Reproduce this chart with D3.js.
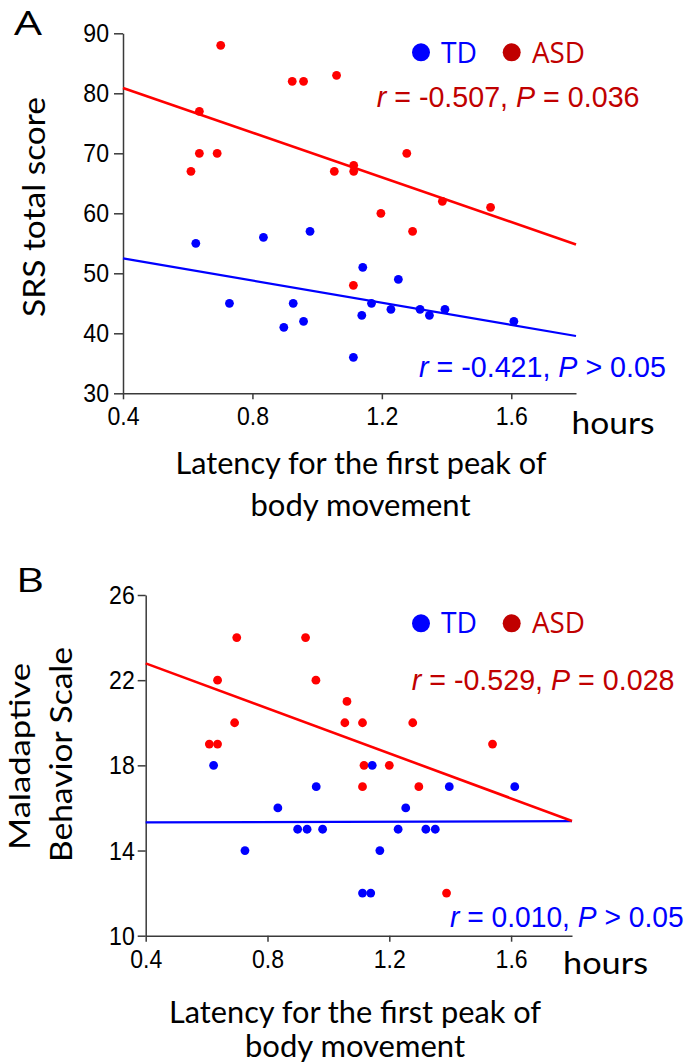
<!DOCTYPE html>
<html>
<head>
<meta charset="utf-8">
<script src="https://cdn.jsdelivr.net/npm/d3@7"></script>
<style>
  html, body { margin: 0; padding: 0; background: #fff; }
  svg { display: block; }
</style>
</head>
<body>
<svg id="chart" width="685" height="1064"></svg>
<script>
// ---------- DATA ----------
const xTicks = [0.4, 0.8, 1.2, 1.6];
const yTicksA = [30, 40, 50, 60, 70, 80, 90];
const yTicksB = [10, 14, 18, 22, 26];

// Panel A: SRS total score
const asdA_x = [0.702, 0.636, 0.636, 0.691, 0.610, 0.923, 0.958, 1.060, 1.053, 1.113, 1.113, 1.277, 1.197, 1.387, 1.536, 1.295, 1.112];
const asdA_y = [88, 77, 70, 70, 67, 82, 82, 83, 67, 68, 67, 70, 60, 62, 61, 57, 48];
const tdA_x  = [0.625, 0.834, 0.978, 0.729, 0.926, 0.897, 0.958, 1.112, 1.141, 1.138, 1.251, 1.168, 1.228, 1.318, 1.347, 1.395, 1.608];
const tdA_y  = [55, 56, 57, 45, 45, 41, 42, 36, 51, 43, 49, 45, 44, 44, 43, 44, 42];
const fitA_x   = [0.4, 1.8];
const fitAsdA  = [80.9, 54.8];
const fitTdA   = [52.5, 39.55];

// Panel B: Maladaptive Behavior Scale
const asdB_x = [0.699, 0.925, 0.636, 0.959, 1.061, 0.692, 1.054, 0.609, 0.636, 1.112, 1.277, 1.539, 1.117, 1.200, 1.112, 1.297, 1.388];
const asdB_y = [24, 24, 22, 22, 21, 20, 20, 19, 19, 20, 20, 19, 18, 18, 17, 17, 12];
const tdB_x  = [0.623, 0.834, 0.960, 0.726, 0.899, 0.930, 0.981, 1.112, 1.139, 1.254, 1.229, 1.320, 1.351, 1.169, 1.397, 1.612, 1.144];
const tdB_y  = [18, 16, 17, 14, 15, 15, 15, 12, 12, 16, 15, 15, 15, 14, 17, 17, 18];
const fitB_x  = [0.4, 1.8];
const fitAsdB = [22.79, 15.39];
const fitTdB  = [15.32, 15.38];

const statsA = [
  {group: "ASD", r: "-0.507", op: "=", p: "0.036"},
  {group: "TD",  r: "-0.421", op: ">", p: "0.05"}
];
const statsB = [
  {group: "ASD", r: "-0.529", op: "=", p: "0.028"},
  {group: "TD",  r: "0.010",  op: ">", p: "0.05"}
];
const legendLabels = ["TD", "ASD"];

// ---------- STYLE ----------
const RED = "#ff0000", BLUE = "#0000ff", DARKRED = "#c00000";
const AXIS = "#3a3a3a";
const LABEL_FONT = "Lato, 'Open Sans', sans-serif";
const TICK_FONT = "'Liberation Sans', Arial, sans-serif";
const LEG_FONT = "'Open Sans', 'Noto Sans', sans-serif";

const svg = d3.select("#chart");
svg.append("rect").attr("width", 685).attr("height", 1064).attr("fill", "#fff");

function drawPanel(cfg) {
  const g = svg.append("g");
  const x = d3.scaleLinear().domain([0.4, 1.8]).range(cfg.xRange);
  const y = d3.scaleLinear().domain(cfg.yDomain).range(cfg.yRange);

  // axes
  const xa = g.append("g").attr("transform", `translate(0,${cfg.yRange[0]})`)
    .call(d3.axisBottom(x).tickValues(xTicks).tickFormat(d3.format(".1f"))
      .tickSize(6).tickPadding(7).tickSizeOuter(0));
  const ya = g.append("g").attr("transform", `translate(${cfg.xRange[0]},0)`)
    .call(d3.axisLeft(y).tickValues(cfg.yTicks).tickFormat(d3.format("d"))
      .tickSize(cfg.yTickSize).tickPadding(cfg.yTickPad).tickSizeOuter(0));
  [xa, ya].forEach(a => {
    a.select(".domain").attr("stroke", AXIS).attr("stroke-width", 1.5);
    a.selectAll(".tick line").attr("stroke", AXIS).attr("stroke-width", 1.5);
    a.selectAll(".tick text").attr("fill", "#000").attr("font-size", 26.5)
      .attr("font-family", TICK_FONT)
      .each(function () {
        const w = this.getComputedTextLength();
        d3.select(this).attr("textLength", w * 0.87).attr("lengthAdjust", "spacingAndGlyphs");
      });
  });

  // fit lines
  const line = d3.line().x(d => x(d[0])).y(d => y(d[1]));
  g.append("path").datum(cfg.fitX.map((v, i) => [v, cfg.fitTd[i]]))
    .attr("d", line).attr("stroke", BLUE).attr("stroke-width", 2.2).attr("fill", "none");
  g.append("path").datum(cfg.fitX.map((v, i) => [v, cfg.fitAsd[i]]))
    .attr("d", line).attr("stroke", RED).attr("stroke-width", 2.6).attr("fill", "none");

  // points
  g.append("g").selectAll("circle").data(cfg.asdX.map((v, i) => [v, cfg.asdY[i]]))
    .join("circle").attr("cx", d => x(d[0])).attr("cy", d => y(d[1])).attr("r", 4.4).attr("fill", RED);
  g.append("g").selectAll("circle").data(cfg.tdX.map((v, i) => [v, cfg.tdY[i]]))
    .join("circle").attr("cx", d => x(d[0])).attr("cy", d => y(d[1])).attr("r", 4.4).attr("fill", BLUE);

  // panel letter
  g.append("text").attr("x", cfg.letterPos[0]).attr("y", cfg.letterPos[1])
    .attr("font-family", LEG_FONT).attr("font-size", 33).attr("fill", "#000")
    .attr("textLength", 28).attr("lengthAdjust", "spacingAndGlyphs").text(cfg.letter);

  // y label (rotated)
  cfg.yLabel.forEach(l => {
    g.append("text").attr("transform", `translate(${l.x},${l.cy}) rotate(-90)`)
      .attr("text-anchor", "middle").attr("font-family", LABEL_FONT).attr("font-size", l.fs)
      .attr("fill", "#000").attr("textLength", l.len).attr("lengthAdjust", "spacingAndGlyphs")
      .text(l.text);
  });

  // hours
  g.append("text").attr("x", cfg.hours[0]).attr("y", cfg.hours[1])
    .attr("font-family", LABEL_FONT).attr("font-size", 31).attr("fill", "#000")
    .attr("textLength", cfg.hours[2]).attr("lengthAdjust", "spacingAndGlyphs").text("hours");

  // x label
  cfg.xLabel.forEach(l => {
    g.append("text").attr("x", l.cx).attr("y", l.y).attr("text-anchor", "middle")
      .attr("font-family", LABEL_FONT).attr("font-size", 30).attr("fill", "#000")
      .attr("textLength", l.len).attr("lengthAdjust", "spacingAndGlyphs").text(l.text);
  });

  // legend
  const leg = cfg.legend;
  [[BLUE, legendLabels[0], leg.dot1, leg.txt1, 36], [DARKRED, legendLabels[1], leg.dot2, leg.txt2, 53]].forEach(([c, t, dx, tx, tl]) => {
    g.append("circle").attr("cx", dx).attr("cy", leg.dotY).attr("r", 9).attr("fill", c);
    g.append("text").attr("x", tx).attr("y", leg.base).attr("font-family", LEG_FONT)
      .attr("font-size", 29).attr("fill", c)
      .attr("textLength", tl).attr("lengthAdjust", "spacingAndGlyphs").text(t);
  });

  // stats (narrowed by a horizontal scale so the tspans keep their own spacing)
  cfg.stats.forEach((s, i) => {
    const pos = cfg.statPos[i];
    const col = s.group === "ASD" ? DARKRED : BLUE;
    const t = g.append("text")
      .attr("transform", `translate(${pos[0]},${pos[1]}) scale(${pos[2]},1)`)
      .attr("font-family", TICK_FONT).attr("font-size", 30).attr("fill", col);
    t.append("tspan").attr("font-style", "italic").text("r");
    t.append("tspan").text(` = ${s.r}, `);
    t.append("tspan").attr("font-style", "italic").text("P");
    t.append("tspan").text(` ${s.op} ${s.p}`);
  });
}

drawPanel({
  xRange: [123, 576], yDomain: [30, 90], yRange: [393.3, 33.3], yTicks: yTicksA,
  yTickSize: 9, yTickPad: 5,
  asdX: asdA_x, asdY: asdA_y, tdX: tdA_x, tdY: tdA_y,
  fitX: fitA_x, fitAsd: fitAsdA, fitTd: fitTdA,
  letter: "A", letterPos: [14, 35],
  yLabel: [{text: "SRS total score", x: 45, cy: 207, len: 220, fs: 31}],
  hours: [571.5, 434, 83],
  xLabel: [{text: "Latency for the first peak of", cx: 361, y: 474, len: 371},
           {text: "body movement", cx: 360.5, y: 516, len: 220}],
  legend: {dot1: 421, dot2: 511.7, dotY: 52.3, txt1: 441, txt2: 532, base: 62.7},
  stats: statsA, statPos: [[376.7, 107.3, 0.955], [419, 376.7, 0.955]]
});

drawPanel({
  xRange: [145.7, 572], yDomain: [10, 26], yRange: [935.7, 595], yTicks: yTicksB,
  yTickSize: 8, yTickPad: 3,
  asdX: asdB_x, asdY: asdB_y, tdX: tdB_x, tdY: tdB_y,
  fitX: fitB_x, fitAsd: fitAsdB, fitTd: fitTdB,
  letter: "B", letterPos: [16, 592],
  yLabel: [{text: "Maladaptive", x: 30, cy: 756.5, len: 187, fs: 29},
           {text: "Behavior Scale", x: 72, cy: 754.5, len: 215, fs: 30}],
  hours: [563, 974, 85],
  xLabel: [{text: "Latency for the first peak of", cx: 355, y: 1023, len: 372},
           {text: "body movement", cx: 355, y: 1057, len: 220}],
  legend: {dot1: 421, dot2: 511.7, dotY: 623.3, txt1: 441, txt2: 532, base: 632.5},
  stats: statsB, statPos: [[411.7, 690, 0.955], [450, 926.7, 0.94]]
});
</script>
</body>
</html>
